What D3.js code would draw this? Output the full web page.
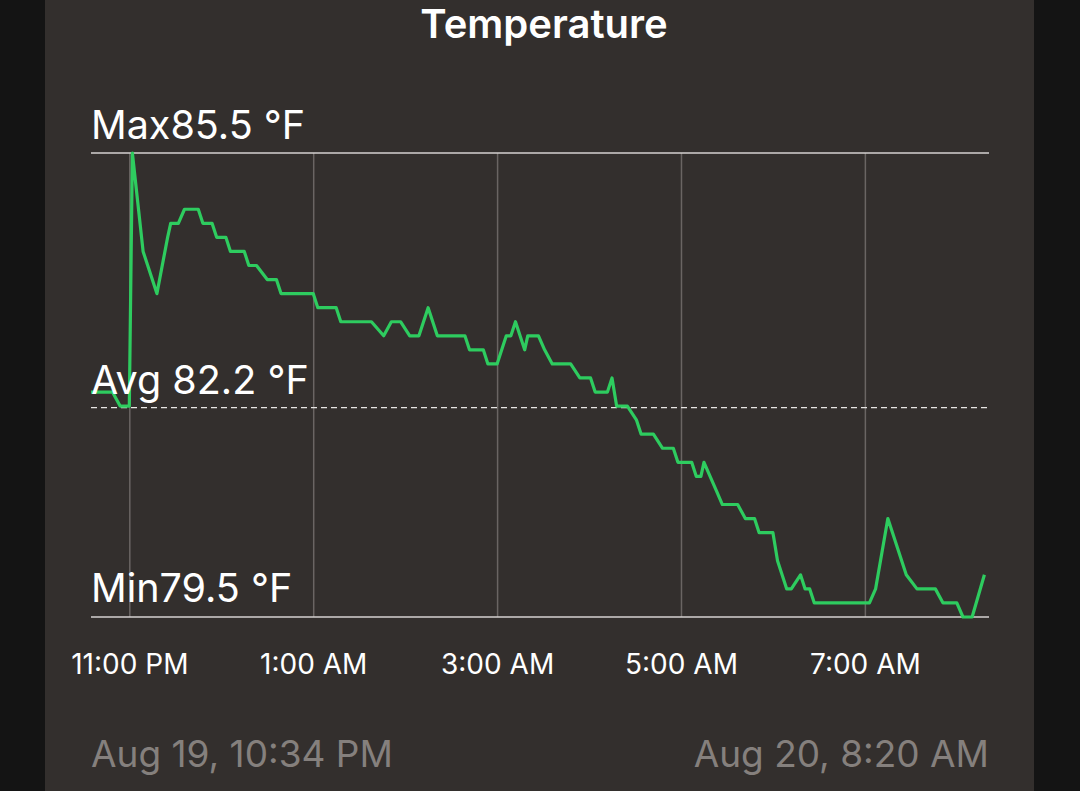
<!DOCTYPE html>
<html lang="en">
	<head>
		<meta charset="utf-8">
		<title>Temperature</title>
		<script type="text/javascript" src="https://cdn.jsdelivr.net/npm/d3@7"></script>
		<style type="text/css">
			html, body { margin: 0; padding: 0; background: #141414; }
			svg { display: block; font-family: Inter, "Noto Sans", sans-serif; }
		</style>
	</head>
	<body>
		<script type="text/javascript">
			//Readings (local time, Aug 19 -> Aug 20)
			var times = ["22:35","22:49","22:54","23:00","23:02","23:09","23:18","23:25","23:27","23:32",
				"23:36","23:45","23:48","23:54","23:57","00:03","00:06","00:15","00:18","00:23",
				"00:30","00:36","00:39","01:00","01:03","01:15","01:18","01:38","01:46","01:51",
				"01:57","02:03","02:09","02:15","02:21","02:39","02:42","02:51","02:54","03:00",
				"03:06","03:09","03:12","03:18","03:20","03:27","03:31","03:36","03:48","03:54",
				"04:01","04:04","04:12","04:15","04:18","04:25","04:31","04:34","04:42","04:48",
				"04:55","04:58","05:07","05:10","05:13","05:15","05:19","05:23","05:27","05:37",
				"05:42","05:48","05:51","06:00","06:03","06:09","06:12","06:18","06:21","06:24",
				"06:27","07:03","07:07","07:15","07:27","07:34","07:46","07:51","08:00","08:04",
				"08:10","08:18"];
			var tempsF = [82.40,82.40,82.22,82.22,85.46,84.20,83.66,84.38,84.56,84.56,
				84.74,84.74,84.56,84.56,84.38,84.38,84.20,84.20,84.02,84.02,
				83.84,83.84,83.66,83.66,83.48,83.48,83.30,83.30,83.12,83.30,
				83.30,83.12,83.12,83.48,83.12,83.12,82.94,82.94,82.76,82.76,
				83.12,83.12,83.30,82.94,83.12,83.12,82.94,82.76,82.76,82.58,
				82.58,82.40,82.40,82.58,82.22,82.22,82.04,81.86,81.86,81.68,
				81.68,81.50,81.50,81.32,81.32,81.50,81.32,81.14,80.96,80.96,
				80.78,80.78,80.60,80.60,80.24,79.88,79.88,80.06,79.88,79.88,
				79.70,79.70,79.88,80.78,80.06,79.88,79.88,79.70,79.70,79.52,
				79.52,80.06];
			var avgF = 82.2;
			var tickHours = [23, 1, 3, 5, 7];
			var startLabel = "Aug 19, 10:34 PM";
			var endLabel = "Aug 20, 8:20 AM";
			var title = "Temperature";

			//Width and height
			var w = 1080;
			var h = 791;

			var parse = d3.timeParse("%Y-%m-%d %H:%M");
			function toDate(t) {
				var day = +t.slice(0, 2) >= 12 ? "2023-08-19 " : "2023-08-20 ";
				return parse(day + t);
			}
			var data = times.map(function(t, i) {
				return { t: toDate(t), v: tempsF[i] };
			});

			var x = d3.scaleTime()
				.domain([toDate("22:35"), toDate("08:21")])
				.range([91, 989]);
			var ext = d3.extent(tempsF);
			var y = d3.scaleLinear()
				.domain(ext)
				.range([617, 153]);

			var svg = d3.select("body")
				.append("svg")
				.attr("width", w)
				.attr("height", h);

			//Panel
			svg.append("rect")
				.attr("x", 45).attr("y", 0)
				.attr("width", 989).attr("height", h)
				.style("fill", "#332f2d");

			svg.append("text")
				.attr("x", 544).attr("y", 38)
				.attr("text-anchor", "middle")
				.style("font-size", "40px")
				.style("font-weight", 600)
				.style("fill", "#ffffff")
				.text(title);

			//Vertical grid at tick hours
			var tickDates = tickHours.map(function(hr) {
				return toDate(d3.format("02")(hr) + ":00");
			});
			var xAxis = d3.axisBottom(x)
				.tickValues(tickDates)
				.tickSize(-(617 - 153))
				.tickFormat(d3.timeFormat("%-I:%M %p"));
			var gx = svg.append("g")
				.attr("transform", "translate(0,617)")
				.call(xAxis);
			gx.select(".domain").remove();
			gx.selectAll(".tick line")
				.style("stroke", "#6a6563")
				.style("stroke-width", 1.5);
			gx.selectAll(".tick text")
				.attr("y", 57)
				.attr("dy", 0)
				.style("font-family", "Inter, sans-serif")
				.style("font-size", "28px")
				.style("fill", "#ffffff");

			//Max / min lines
			[ext[1], ext[0]].forEach(function(v) {
				svg.append("line")
					.attr("x1", 91).attr("x2", 989)
					.attr("y1", y(v)).attr("y2", y(v))
					.style("stroke", "#d6d2d0")
					.style("stroke-width", 1.5);
			});

			//Average line
			svg.append("line")
				.attr("x1", 91).attr("x2", 989)
				.attr("y1", y(avgF)).attr("y2", y(avgF))
				.style("stroke", "#e8e6e4")
				.style("stroke-width", 1.2)
				.style("stroke-dasharray", "6,4");

			var line = d3.line()
				.x(function(d) { return x(d.t); })
				.y(function(d) { return y(d.v); });

			svg.append("path")
				.datum(data)
				.attr("d", line)
				.style("fill", "none")
				.style("stroke", "#2ecc5f")
				.style("stroke-width", 3.2)
				.style("stroke-linejoin", "round");

			//Summary labels
			var fmt = d3.format(".1f");
			var labels = [
				{ text: "Max" + fmt(ext[1]) + " °F", y: y(ext[1]) - 14 },
				{ text: "Avg " + fmt(avgF) + " °F", y: y(avgF) - 14 },
				{ text: "Min" + fmt(ext[0]) + " °F", y: y(ext[0]) - 15 }
			];
			svg.selectAll("text.summary")
				.data(labels)
				.enter()
				.append("text")
				.attr("class", "summary")
				.attr("x", 91)
				.attr("y", function(d) { return d.y; })
				.style("font-size", "39.5px")
				.style("fill", "#ffffff")
				.text(function(d) { return d.text; });

			//Range labels
			svg.append("text")
				.attr("x", 91).attr("y", 767)
				.style("font-size", "37px")
				.style("fill", "#85807d")
				.text(startLabel);
			svg.append("text")
				.attr("x", 989).attr("y", 767)
				.attr("text-anchor", "end")
				.style("font-size", "37px")
				.style("fill", "#85807d")
				.text(endLabel);
		</script>
	</body>
</html>
